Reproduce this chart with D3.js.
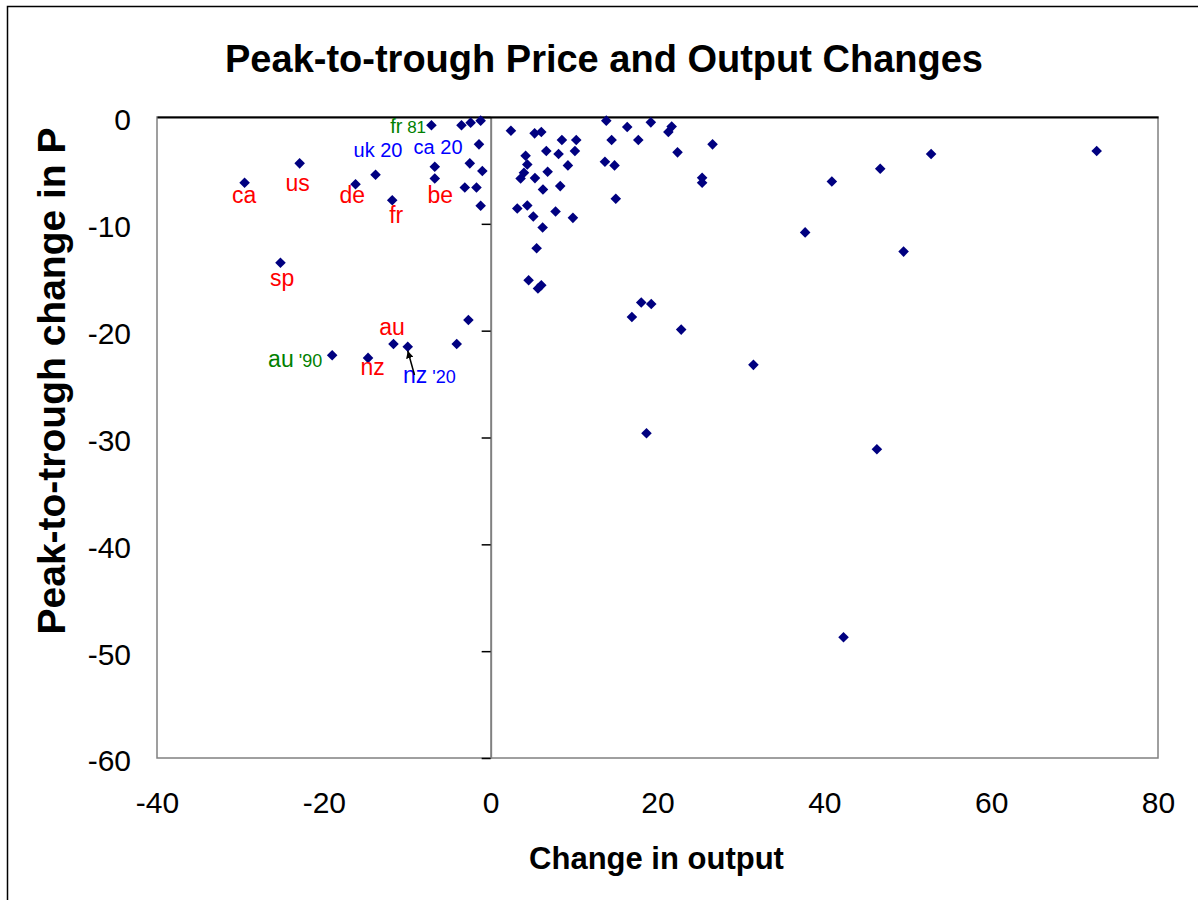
<!DOCTYPE html>
<html>
<head>
<meta charset="utf-8">
<script src="https://cdn.jsdelivr.net/npm/d3@7"></script>
<style>
  body { margin: 0; background: #fff; }
  svg { font-family: "Liberation Sans", Arial, sans-serif; }
</style>
</head>
<body>
<div id="chart"></div>
<script>
// output change (x) and price change (y), peak to trough
const outputChange = [
  -29.5, -22.9, -16.2, -13.8, -11.8, -7.1, -6.7, -6.7, -3.5, -2.4, -1.2, -1.4, -2.5, -1.0, -3.1, -1.7, -1.2,
  -25.2, -19.0, -14.7, -11.65, -9.94, -4.07, -2.67,
  2.43, 5.27, 6.07, 8.54, 10.26, 13.86, 16.37, 19.2, 21.7, 21.3, 14.5, 17.7, 26.6,
  4.19, 6.67, 8.14, 10.1, 22.4, 4.39, 9.26, 13.7, 14.85, 3.99, 3.59, 5.31, 6.83,
  25.35, 25.35, 6.27, 8.34, 15.0, 3.19, 4.39, 5.11, 7.78, 9.86, 6.23, 5.51,
  4.55, 6.07, 5.67, 18.05, 19.25, 16.93, 22.84, 31.5, 18.68,
  40.9, 46.7, 52.8, 72.65, 37.7, 49.5, 46.3, 42.3
]
const priceChange = [
  -6.16, -4.34, -6.3, -5.4, -7.8, -0.78, -4.66, -5.75, -0.78, -0.53, -0.34, -2.56, -4.34, -5.06, -6.6, -6.6, -8.3,
  -13.65, -22.3, -22.55, -21.25, -21.5, -21.25, -19.0,
  -1.28, -1.53, -1.4, -2.16, -2.16, -0.34, -0.94, -0.5, -0.9, -1.4, -2.16, -2.16, -2.56,
  -3.62, -3.19, -3.47, -3.19, -3.31, -4.44, -4.53, -4.19, -4.53, -5.22, -5.75, -5.72, -5.12,
  -5.69, -6.16, -6.78, -6.47, -7.65, -8.56, -8.28, -9.31, -8.84, -9.44, -10.34, -12.28,
  -15.28, -15.75, -16.06, -17.37, -17.5, -18.72, -19.9, -23.2, -29.6,
  -6.03, -4.84, -3.47, -3.19, -10.8, -12.6, -31.1, -48.7
]

const xTicks = [-40, -20, 0, 20, 40, 60, 80]
const yTicks = [0, -10, -20, -30, -40, -50, -60]

// text labels, placed in data units
const labelText = ['ca', 'us', 'de', 'fr', 'be', 'sp', 'au', 'nz', 'fr', 'au', 'uk 20', 'ca 20', 'nz']
const labelSuffix = ['', '', '', '', '', '', '', '', '81', "'90", '', '', "'20"]
const labelGroup = ['old', 'old', 'old', 'old', 'old', 'old', 'old', 'old', 'early', 'early', 'new', 'new', 'new']
const labelX = [-29.56, -23.14, -16.6, -11.32, -6.04, -25.0, -11.83, -14.14, -12.04, -26.68, -16.44, -9.24, -10.51]
const labelY = [-8.02, -6.9, -8.02, -9.95, -8.02, -15.82, -20.41, -24.15, -1.54, -23.4, -3.77, -3.49, -24.93]

// arrow from the nz '20 label to its point
const arrowFrom = [-9.13, -24.15]
const arrowTo = [-9.94, -21.5]

const width = 1198
const height = 900
const plot = {left: 157, top: 117, right: 1158, bottom: 758}
const groupColor = {old: '#ff0000', early: '#008000', new: '#0000ff'}

const svg = d3.select('#chart')
    .append('svg')
        .attr('width', width)
        .attr('height', height)

// chart area border
svg.append('rect')
    .attr('x', 7.5)
    .attr('y', 6.5)
    .attr('width', width + 50)
    .attr('height', height + 50)
    .attr('fill', '#fff')
    .attr('stroke', '#000')
    .attr('stroke-width', 1.5)

const xScale = d3.scaleLinear().domain([-40, 80]).range([plot.left, plot.right])
const yScale = d3.scaleLinear().domain([-60, 0]).range([plot.bottom, plot.top])

// plot area frame
svg.append('rect')
    .attr('x', plot.left)
    .attr('y', plot.top)
    .attr('width', plot.right - plot.left)
    .attr('height', plot.bottom - plot.top)
    .attr('fill', 'none')
    .attr('stroke', '#808080')
    .attr('stroke-width', 1.5)

// tick labels along the plot edges
const xLabels = svg.append('g')
    .attr('transform', 'translate(0,' + plot.bottom + ')')
    .call(d3.axisBottom(xScale).tickValues(xTicks).tickSize(0).tickPadding(34))
xLabels.select('.domain').remove()
xLabels.selectAll('text')
    .attr('font-size', 30)
    .attr('font-family', '"Liberation Sans", Arial, sans-serif')
    .attr('fill', '#000')
    .text((d) => d < 0 ? '-' + Math.abs(d) : d)

const yLabels = svg.append('g')
    .attr('transform', 'translate(' + plot.left + ',0)')
    .call(d3.axisLeft(yScale).tickValues(yTicks).tickSize(0).tickPadding(26))
yLabels.select('.domain').remove()
yLabels.selectAll('text')
    .attr('font-size', 30)
    .attr('font-family', '"Liberation Sans", Arial, sans-serif')
    .attr('fill', '#000')
    .attr('dy', '0.43em')
    .text((d) => d < 0 ? '-' + Math.abs(d) : d)

// y axis crosses at x = 0
const yAxis = svg.append('g')
    .attr('transform', 'translate(' + xScale(0) + ',0)')
    .call(d3.axisLeft(yScale).tickValues(yTicks).tickSize(9).tickSizeOuter(0).tickFormat(''))
yAxis.select('.domain').attr('stroke', '#808080').attr('stroke-width', 2)
yAxis.selectAll('.tick line').attr('stroke', '#000').attr('stroke-width', 1.5)

// x axis crosses at y = 0 (top edge)
const xAxis = svg.append('g')
    .attr('transform', 'translate(0,' + yScale(0) + ')')
    .call(d3.axisTop(xScale).tickValues([]).tickSizeOuter(0))
xAxis.select('.domain').attr('stroke', '#000').attr('stroke-width', 2)

// points
const diamond = d3.symbol(d3.symbolSquare, 56)
svg.append('g')
    .selectAll('path')
    .data(outputChange)
    .join('path')
        .attr('d', diamond)
        .attr('fill', '#000080')
        .attr('transform', (d, i) =>
            'translate(' + xScale(d) + ',' + yScale(priceChange[i]) + ') rotate(45)')

// labels
const labels = svg.append('g')
    .selectAll('text')
    .data(labelText)
    .join('text')
        .attr('x', (d, i) => xScale(labelX[i]))
        .attr('y', (d, i) => yScale(labelY[i]))
        .attr('fill', (d, i) => groupColor[labelGroup[i]])
        .attr('text-anchor', (d, i) => labelGroup[i] === 'old' ? 'middle' : 'start')
        .attr('font-size', (d, i) => (labelGroup[i] === 'old' || labelSuffix[i] !== '' && labelText[i] !== 'fr') ? 23 : 20)

labels.append('tspan').text((d) => d)
labels.append('tspan')
    .attr('font-size', (d, i) => labelText[i] === 'fr' ? 17 : 18)
    .text((d, i) => labelSuffix[i] ? ' ' + labelSuffix[i] : '')

// arrow
svg.append('defs').append('marker')
    .attr('id', 'arrowhead')
    .attr('viewBox', '0 0 10 10')
    .attr('refX', 10)
    .attr('refY', 5)
    .attr('markerWidth', 5)
    .attr('markerHeight', 5)
    .attr('orient', 'auto')
    .append('path')
        .attr('d', 'M0,0L10,5L0,10z')
        .attr('fill', '#000')

svg.append('line')
    .attr('x1', xScale(arrowFrom[0]))
    .attr('y1', yScale(arrowFrom[1]))
    .attr('x2', xScale(arrowTo[0]))
    .attr('y2', yScale(arrowTo[1]) + 4)
    .attr('stroke', '#000')
    .attr('stroke-width', 1.5)
    .attr('marker-end', 'url(#arrowhead)')

// titles
svg.append('text')
    .attr('x', 604)
    .attr('y', 72)
    .attr('text-anchor', 'middle')
    .attr('font-size', 38)
    .attr('font-weight', 'bold')
    .text('Peak-to-trough Price and Output Changes')

svg.append('text')
    .attr('x', (plot.left + plot.right) / 2 - 1)
    .attr('y', 869)
    .attr('text-anchor', 'middle')
    .attr('font-size', 31)
    .attr('font-weight', 'bold')
    .text('Change in output')

svg.append('text')
    .attr('transform', 'translate(65,381) rotate(-90)')
    .attr('text-anchor', 'middle')
    .attr('font-size', 39)
    .attr('font-weight', 'bold')
    .text('Peak-to-trough change in P')
</script>
</body>
</html>
